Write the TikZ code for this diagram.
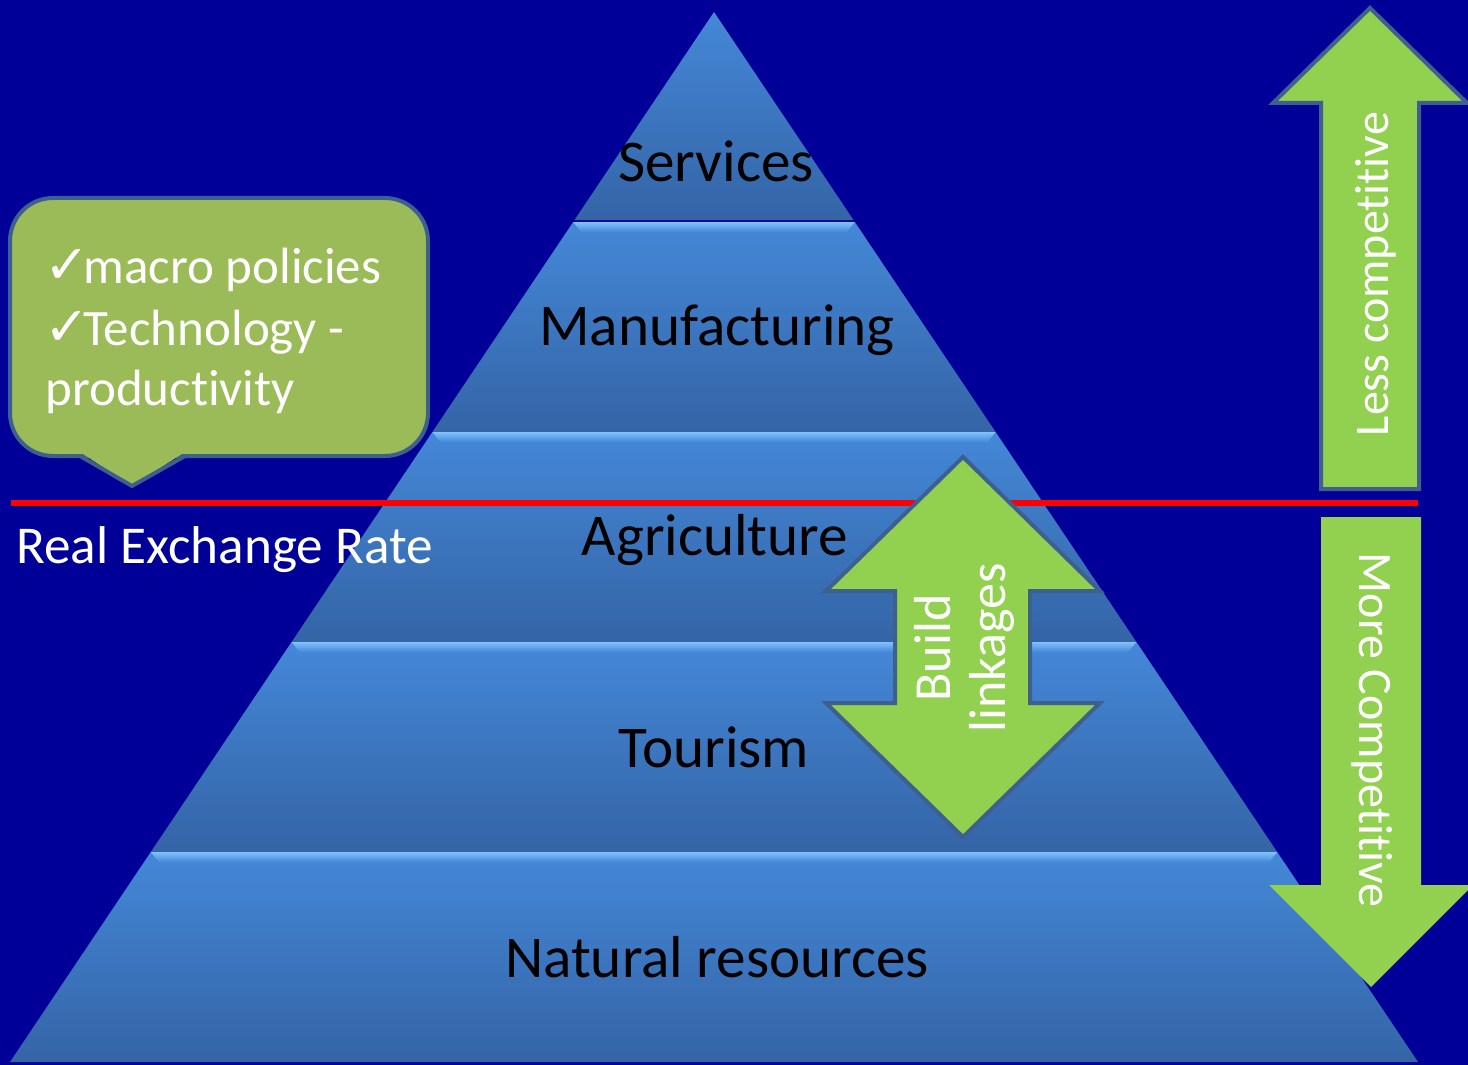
\documentclass[tikz,border=0pt]{standalone}
\usepackage{fontspec}
\setmainfont[Ligatures=NoCommon]{Carlito}
\newfontfamily\checkfont{DejaVu Sans}

\definecolor{slidebg}{RGB}{0,0,153}
\definecolor{bandtop}{RGB}{68,136,216}
\definecolor{bandbot}{RGB}{52,100,166}
\definecolor{bandhi}{RGB}{128,194,252}
\definecolor{calloutgreen}{RGB}{155,187,89}
\definecolor{arrowgreen}{RGB}{146,208,80}
\definecolor{edgeblue}{RGB}{62,96,142}

\begin{document}
\begin{tikzpicture}[x=0.5pt, y=-0.5pt,
    band/.style={top color=bandtop, bottom color=bandbot},
    bandshine/.style={top color=bandhi, bottom color=bandtop},
    bandlabel/.style={anchor=base, inner sep=0pt, text=black, font=\fontsize{29.6}{35}\selectfont},
    whitelabel/.style={inner sep=0pt, text=white, font=\fontsize{25.5}{30}\selectfont},
    greenarrow/.style={fill=arrowgreen, draw=edgeblue, line width=2pt, line join=miter}]
    \useasboundingbox (0,0) rectangle (1468,1065);
    \fill[slidebg] (0,0) rectangle (1468,1065);

    % pyramid bands
    \shade[band] (714,12) -- (853.5,220) -- (574.5,220) -- cycle;
    \shade[band] (573.2,222) -- (854.8,222) -- (995.6,432) -- (432.4,432) -- cycle;
    \shade[band] (432.4,432) -- (995.6,432) -- (1136.4,642) -- (291.6,642) -- cycle;
    \shade[band] (291.6,642) -- (1136.4,642) -- (1277.2,852) -- (150.8,852) -- cycle;
    \shade[band] (150.8,852) -- (1277.2,852) -- (1418,1062) -- (10,1062) -- cycle;
    \foreach \t/\l/\r in {222/573.2/854.8, 432/432.4/995.6, 642/291.6/1136.4, 852/150.8/1277.2}
        \shade[bandshine] (\l,\t) -- (\r,\t) -- (\r-8,\t+10) -- (\l+8,\t+10) -- cycle;

    \node[bandlabel] (services) at (716,182) {Services};
    \node[bandlabel] (manuf) at (717,345) {Manufacturing};
    \node[bandlabel] (agri) at (715,555) {Agriculture};
    \node[bandlabel] (tourism) at (714,767) {Tourism};
    \node[bandlabel] (natres) at (717,977) {Natural resources};

    % exchange rate line
    \draw[red, line width=2.8pt] (11,503) -- (1418,503);
    \node[whitelabel, anchor=base west, font=\fontsize{26.6}{30}\selectfont] (rer) at (16,563) {Real Exchange Rate};

    % callout
    \draw[fill=calloutgreen, draw=edgeblue, line width=2pt, rounded corners=21.5pt] (10,198) rectangle (428,456);
    \fill[calloutgreen] (80,452) -- (185,452) -- (132,486) -- cycle;
    \draw[edgeblue, line width=2pt] (80,456) -- (132,486) -- (185,456);
    \node[whitelabel, anchor=base west] (cb1) at (44,283) {{\checkfont\fontsize{27}{30}\selectfont ✓}\kern-3pt macro policies};
    \node[whitelabel, anchor=base west] (cb2) at (44,345) {{\checkfont\fontsize{27}{30}\selectfont ✓}\kern-3pt Technology -};
    \node[whitelabel, anchor=base west] (cb3) at (45,405) {productivity};

    % arrows
    \draw[greenarrow] (963,457) -- (1100,591) -- (1030,591) -- (1030,703) -- (1100,703) -- (963,837)
        -- (826,703) -- (895,703) -- (895,591) -- (826,591) -- cycle;
    \node[whitelabel, rotate=90, align=center, font=\fontsize{26}{27.5}\selectfont] (linkages) at (964,648) {Build\\linkages};

    \draw[greenarrow] (1370,8) -- (1467,103) -- (1419,103) -- (1419,489) -- (1321,489) -- (1321,103) -- (1273,103) -- cycle;
    \node[whitelabel, rotate=90, font=\fontsize{24}{28}\selectfont] (less) at (1376,274) {Less competitive};

    \fill[arrowgreen] (1321,517) -- (1421,517) -- (1421,885) -- (1473,885) -- (1371,987) -- (1269,885) -- (1321,885) -- cycle;
    \node[whitelabel, rotate=-90, font=\fontsize{24}{28}\selectfont] (more) at (1372,730) {More Competitive};
\end{tikzpicture}
\end{document}
